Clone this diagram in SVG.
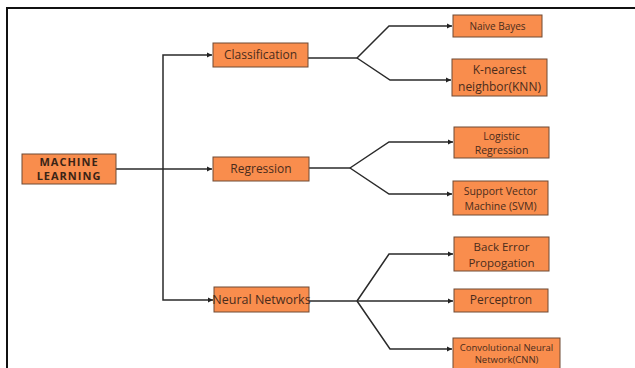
<svg xmlns="http://www.w3.org/2000/svg" width="635" height="368" viewBox="0 0 635 368">
<defs>
<marker id="ah" markerWidth="6" markerHeight="6" refX="5" refY="3" orient="auto" markerUnits="userSpaceOnUse">
<path d="M0,0.5 L5,3 L0,5.5 Z" fill="#222"/>
</marker>
<style>
.n{fill:#F98D4D;stroke:#6e4a35;stroke-width:1}
.t{font-family:"Open Sans","Liberation Sans",sans-serif;font-size:11.5px;fill:#4a2c1c;text-anchor:middle}
.b{font-family:"Open Sans","Liberation Sans",sans-serif;font-size:11px;font-weight:bold;fill:#3a2416;text-anchor:middle;letter-spacing:1px}
.c{fill:none;stroke:#2a2a2a;stroke-width:1.5}
</style>
</defs>
<rect x="0" y="0" width="635" height="368" fill="#fff"/>
<path d="M7,368 V8 H635" fill="none" stroke="#111" stroke-width="2"/>
<g id="connectors">
<path class="c" d="M116,169 H163"/>
<path class="c" d="M163,169 V55 H212" marker-end="url(#ah)"/>
<path class="c" d="M163,169 H212" marker-end="url(#ah)"/>
<path class="c" d="M163,169 V300 H213" marker-end="url(#ah)"/>
<path class="c" d="M308,58 H357"/>
<path class="c" d="M357,58 L389,26 H452" marker-end="url(#ah)"/>
<path class="c" d="M357,58 L390,80 H451" marker-end="url(#ah)"/>
<path class="c" d="M309,168 H350"/>
<path class="c" d="M350,168 L389,142 H453" marker-end="url(#ah)"/>
<path class="c" d="M350,168 L389,194 H452" marker-end="url(#ah)"/>
<path class="c" d="M309,301 H357"/>
<path class="c" d="M357,301 L389,254 H453" marker-end="url(#ah)"/>
<path class="c" d="M357,301 H453" marker-end="url(#ah)"/>
<path class="c" d="M357,301 L390,349 H452" marker-end="url(#ah)"/>
</g>
<g id="machine-learning">
<rect class="n" x="22" y="154" width="94" height="30"/>
<text class="b" x="69" y="166">MACHINE</text>
<text class="b" x="69" y="180">LEARNING</text>
</g>
<g id="classification">
<rect class="n" x="213" y="43" width="95" height="24"/>
<text class="t" x="260.5" y="59" style="font-size:12px">Classification</text>
</g>
<g id="regression">
<rect class="n" x="213" y="157" width="96" height="24"/>
<text class="t" x="261" y="173" style="font-size:12px">Regression</text>
</g>
<g id="neural-networks">
<rect class="n" x="214" y="287" width="95" height="25"/>
<text class="t" x="261.5" y="304" style="font-size:12.5px">Neural Networks</text>
</g>
<g id="naive-bayes">
<rect class="n" x="453" y="15" width="89" height="22"/>
<text class="t" x="497.5" y="30" style="font-size:10px">Naive Bayes</text>
</g>
<g id="knn">
<rect class="n" x="452" y="59" width="95" height="37"/>
<text class="t" x="499.5" y="74" style="font-size:12px">K-nearest</text>
<text class="t" x="499.5" y="91" style="font-size:12px">neighbor(KNN)</text>
</g>
<g id="logistic-regression">
<rect class="n" x="454" y="127" width="95" height="31"/>
<text class="t" x="501.5" y="140" style="font-size:10.5px">Logistic</text>
<text class="t" x="501.5" y="154" style="font-size:10.5px">Regression</text>
</g>
<g id="svm">
<rect class="n" x="453" y="181" width="95" height="34"/>
<text class="t" x="500.5" y="195" style="font-size:10.5px">Support Vector</text>
<text class="t" x="500.5" y="210" style="font-size:10.5px">Machine (SVM)</text>
</g>
<g id="back-error-propogation">
<rect class="n" x="454" y="237" width="95" height="34"/>
<text class="t" x="501.5" y="251" style="font-size:11.5px">Back Error</text>
<text class="t" x="501.5" y="267" style="font-size:11.5px">Propogation</text>
</g>
<g id="perceptron">
<rect class="n" x="454" y="289" width="94" height="23"/>
<text class="t" x="501" y="304" style="font-size:12px">Perceptron</text>
</g>
<g id="cnn">
<rect class="n" x="453" y="338" width="107" height="36"/>
<text class="t" x="506.5" y="351" style="font-size:9.5px">Convolutional Neural</text>
<text class="t" x="506.5" y="363" style="font-size:9.5px">Network(CNN)</text>
</g>
</svg>
